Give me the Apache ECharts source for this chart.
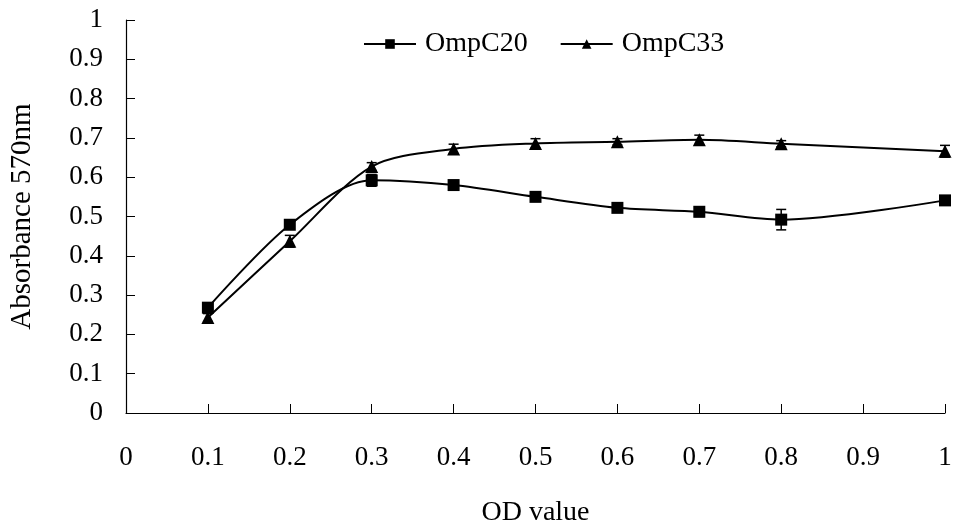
<!DOCTYPE html>
<html>
<head>
<meta charset="UTF-8">
<title>OmpC absorbance</title>
<script src="https://cdn.jsdelivr.net/npm/echarts@6/dist/echarts.min.js"></script>
<style>
    body { margin: 0; background: #fff; }
    #chart { width: 955px; height: 532px; }
</style>
</head>
<body>
<div id="chart"></div>
<script>
    // OD value (x) and absorbance readings
    const odValues = [0.1, 0.2, 0.3, 0.4, 0.5, 0.6, 0.7, 0.8, 1.0];
    const ompC20 = [0.268, 0.479, 0.592, 0.580, 0.550, 0.522, 0.512, 0.492, 0.541];
    const ompC20Err = [0.010, 0.010, 0.015, 0.005, 0.005, 0.005, 0.012, 0.026, 0.005];
    const ompC33 = [0.243, 0.437, 0.627, 0.672, 0.686, 0.690, 0.695, 0.685, 0.666];
    const ompC33Err = [0.010, 0.015, 0.010, 0.012, 0.012, 0.008, 0.012, 0.008, 0.015];

    const font = '"Liberation Serif", "Times New Roman", serif';
    const chart = echarts.init(document.getElementById('chart'));

    function pairs(ys) { return odValues.map((x, i) => [x, ys[i]]); }
    function errData(ys, es) { return odValues.map((x, i) => [x, ys[i], es[i]]); }

    // error bar drawn through the axis scales
    function renderErr(params, api) {
        const x = api.value(0), y = api.value(1), e = api.value(2);
        const hi = api.coord([x, y + e]);
        const lo = api.coord([x, y - e]);
        const w = 5;
        const st = { stroke: '#000', lineWidth: 1.5 };
        return {
            type: 'group',
            children: [
                { type: 'line', shape: { x1: hi[0], y1: hi[1], x2: lo[0], y2: lo[1] }, style: st },
                { type: 'line', shape: { x1: hi[0] - w, y1: hi[1], x2: hi[0] + w, y2: hi[1] }, style: st },
                { type: 'line', shape: { x1: lo[0] - w, y1: lo[1], x2: lo[0] + w, y2: lo[1] }, style: st }
            ]
        };
    }

    chart.setOption({
        animation: false,
        textStyle: { fontFamily: font, color: '#000' },
        grid: { left: 124, right: 10, top: 20, bottom: 118 },
        legend: {
            top: 25,
            left: 358,
            itemWidth: 52,
            itemHeight: 12,
            itemGap: 32,
            textStyle: { fontFamily: font, fontSize: 28, color: '#000', padding: [0, 0, 0, 4] },
            data: ['OmpC20', 'OmpC33']
        },
        xAxis: {
            type: 'value',
            min: 0, max: 1, interval: 0.1,
            name: 'OD value',
            nameLocation: 'middle',
            nameGap: 86,
            nameTextStyle: { fontFamily: font, fontSize: 28, color: '#000' },
            axisLine: { lineStyle: { color: '#000', width: 1.2 } },
            axisTick: { inside: true, length: 9, lineStyle: { color: '#000' } },
            axisLabel: { margin: 31, fontSize: 27, color: '#000', fontFamily: font },
            splitLine: { show: false }
        },
        yAxis: {
            type: 'value',
            min: 0, max: 1, interval: 0.1,
            name: 'Absorbance 570nm',
            nameLocation: 'middle',
            nameGap: 89,
            nameTextStyle: { fontFamily: font, fontSize: 29, color: '#000' },
            axisLine: { show: true, lineStyle: { color: '#000', width: 1.2 } },
            axisTick: { show: true, inside: true, length: 9, lineStyle: { color: '#000' } },
            axisLabel: { margin: 23, fontSize: 27, color: '#000', fontFamily: font },
            splitLine: { show: false }
        },
        series: [
            {
                name: 'OmpC20', type: 'line', data: pairs(ompC20),
                smooth: 0.3, symbol: 'rect', symbolSize: 12,
                lineStyle: { color: '#000', width: 2 },
                itemStyle: { color: '#000' }, z: 3
            },
            {
                name: 'OmpC33', type: 'line', data: pairs(ompC33),
                smooth: 0.3, symbol: 'triangle', symbolSize: 13,
                lineStyle: { color: '#000', width: 2 },
                itemStyle: { color: '#000' }, z: 3
            },
            { type: 'custom', renderItem: renderErr, data: errData(ompC20, ompC20Err), z: 4 },
            { type: 'custom', renderItem: renderErr, data: errData(ompC33, ompC33Err), z: 4 }
        ]
    });
</script>
</body>
</html>
